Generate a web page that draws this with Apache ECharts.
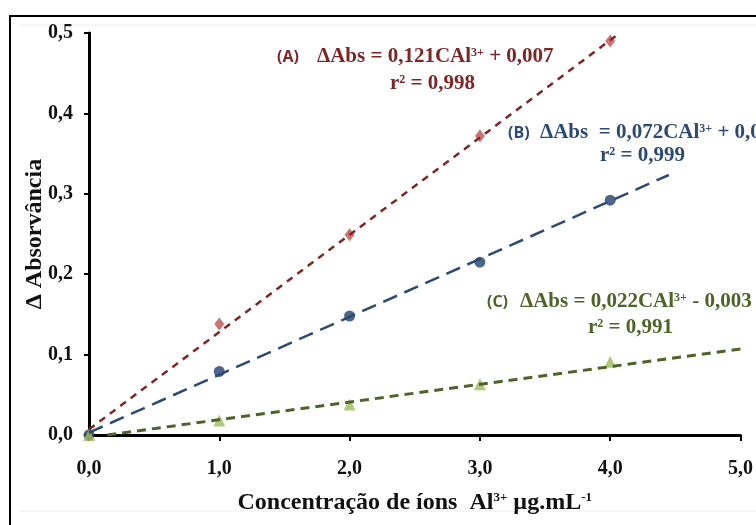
<!DOCTYPE html>
<html>
<head>
<meta charset="utf-8">
<script src="https://cdn.jsdelivr.net/npm/echarts@6/dist/echarts.min.js"></script>
<style>
  html, body { margin: 0; padding: 0; background: #fff; }
  #chart { width: 756px; height: 525px; }
</style>
</head>
<body>
<div id="chart"></div>
<script>
// Concentration of Al3+ (µg/mL) for each standard
const concentrations = [0, 1, 2, 3, 4];
// Measured absorbance change for each method
const absA = [0, 0.138, 0.249, 0.372, 0.490];
const absB = [0, 0.079, 0.148, 0.215, 0.292];
const absC = [0, 0.018, 0.038, 0.063, 0.091];
// Linear fits: slope, intercept, r² and the x range over which each line is drawn
const fitSlopes = [0.121, 0.072, 0.022];
const fitIntercepts = [0.007, 0.003, -0.003];
const fitR2 = [0.998, 0.999, 0.991];
const fitStart = [0, 0, 0.14];
const fitEnd = [4.075, 4.45, 5.0];
const fitNames = ['A', 'B', 'C'];
// Axis tick values
const xTicks = [0, 1, 2, 3, 4, 5];
const yTicks = [0, 0.1, 0.2, 0.3, 0.4, 0.5];

const pts = ys => concentrations.map((x, i) => [x, ys[i]]);
const fitLine = k => [fitStart[k], fitEnd[k]].map(x => [x, fitSlopes[k] * x + fitIntercepts[k]]);
const comma = (v, d) => v.toFixed(d).replace('.', ',');

const serif = '"Liberation Serif", "Times New Roman", serif';
const sans = '"Open Sans", "Liberation Sans", sans-serif';

const colA = '#7e2626', colB = '#2c4a73', colC = '#4f6228';
const fitColors = [colA, colB, colC];

const eqRich = color => ({
  eq: { fontFamily: serif, fontWeight: 'bold', fontSize: 21, fill: color, color: color },
  sup: { fontFamily: serif, fontWeight: 'bold', fontSize: 12, fill: color, color: color, verticalAlign: 'top', padding: [0, 0, 9, 0] }
});

// Equation block for one fit: letter tag, equation line, r² line
function fitLabel(k, tagX, eqX, eqY, r2X, r2Y, gap) {
  const color = fitColors[k];
  const b = fitIntercepts[k];
  const sign = b < 0 ? '-' : '+';
  return [
    { type: 'text', x: tagX, y: eqY, z: 10,
      style: { text: '(' + fitNames[k] + ')', fontFamily: sans, fontWeight: 'bold', fontSize: 16,
               fill: color, verticalAlign: 'middle' } },
    { type: 'text', x: eqX, y: eqY, z: 10,
      style: { text: '{eq|ΔAbs' + gap + '= ' + comma(fitSlopes[k], 3) + 'CAl}{sup|3+}{eq| ' + sign + ' ' + comma(Math.abs(b), 3) + '}',
               rich: eqRich(color), verticalAlign: 'middle' } },
    { type: 'text', x: r2X, y: r2Y, z: 10,
      style: { text: '{eq|r}{sup|2}{eq| = ' + comma(fitR2[k], 3) + '}', rich: eqRich(color), verticalAlign: 'middle' } }
  ];
}

const chart = echarts.init(document.getElementById('chart'), null, { renderer: 'canvas' });
chart.setOption({
  backgroundColor: '#fff',
  animation: false,
  grid: { left: 89, right: 13, top: 33, bottom: 90 },
  xAxis: {
    type: 'value', min: 0, max: 5, interval: 1,
    axisLine: { show: true, onZero: false, lineStyle: { color: '#000', width: 3 } },
    axisTick: { show: true, length: 6, lineStyle: { color: '#000', width: 2 } },
    splitLine: { show: false },
    axisLabel: {
      margin: 24, fontFamily: serif, fontWeight: 'bold', fontSize: 20, color: '#111',
      formatter: v => comma(v, 1)
    },
    name: '{t|Concentração de íons  Al}{s|3+}{t| µg.mL}{s|-1}',
    nameLocation: 'middle', nameGap: 56, nameMoveOverlap: false,
    nameTextStyle: {
      rich: {
        t: { fontFamily: serif, fontWeight: 'bold', fontSize: 24, color: '#111' },
        s: { fontFamily: serif, fontWeight: 'bold', fontSize: 13, color: '#111', verticalAlign: 'top', padding: [0, 0, 10, 0] }
      }
    }
  },
  yAxis: {
    type: 'value', min: 0, max: 0.5, interval: 0.1,
    axisLine: { show: true, onZero: false, lineStyle: { color: '#000', width: 3 } },
    axisTick: { show: true, length: 5, lineStyle: { color: '#000', width: 2 } },
    splitLine: { show: false },
    axisLabel: {
      margin: 16, fontFamily: serif, fontWeight: 'bold', fontSize: 20, color: '#111',
      formatter: v => comma(v, 1)
    },
    name: 'Δ Absorvância',
    nameLocation: 'middle', nameGap: 42, nameMoveOverlap: false,
    nameTextStyle: { fontFamily: serif, fontWeight: 'bold', fontSize: 24, color: '#111' }
  },
  graphic: [
    { type: 'rect', shape: { x: 10, y: 16, width: 800, height: 600 }, style: { fill: null, stroke: '#000', lineWidth: 2 }, z: 0 },
    { type: 'line', shape: { x1: 20, y1: 25, x2: 756, y2: 25 }, style: { stroke: '#eeeeee', lineWidth: 1 }, z: 0 },
    { type: 'line', shape: { x1: 20, y1: 511, x2: 756, y2: 511 }, style: { stroke: '#eeeeee', lineWidth: 1 }, z: 0 },
    ...fitLabel(0, 277, 317, 57, 390, 84, ' '),
    ...fitLabel(1, 508, 540, 133, 600, 156, '  '),
    ...fitLabel(2, 487, 520, 302, 588, 328, ' ')
  ],
  series: [
    { type: 'scatter', data: pts(absA), symbol: 'diamond', symbolSize: [10, 13], itemStyle: { color: '#c0504d' }, z: 3 },
    { type: 'scatter', data: pts(absB), symbol: 'circle', symbolSize: 11, itemStyle: { color: '#1f3f6a' }, z: 3 },
    { type: 'scatter', data: pts(absC), symbol: 'triangle', symbolSize: 12, itemStyle: { color: '#9bbb59' }, z: 3 },
    { type: 'line', data: fitLine(0), symbol: 'none', silent: true, z: 4,
      lineStyle: { color: colA, width: 2.5, type: [7, 6] } },
    { type: 'line', data: fitLine(1), symbol: 'none', silent: true, z: 4,
      lineStyle: { color: colB, width: 2.5, type: [15, 8] } },
    { type: 'line', data: fitLine(2), symbol: 'none', silent: true, z: 4,
      lineStyle: { color: colC, width: 3, type: [9, 6] } }
  ]
});
</script>
</body>
</html>
